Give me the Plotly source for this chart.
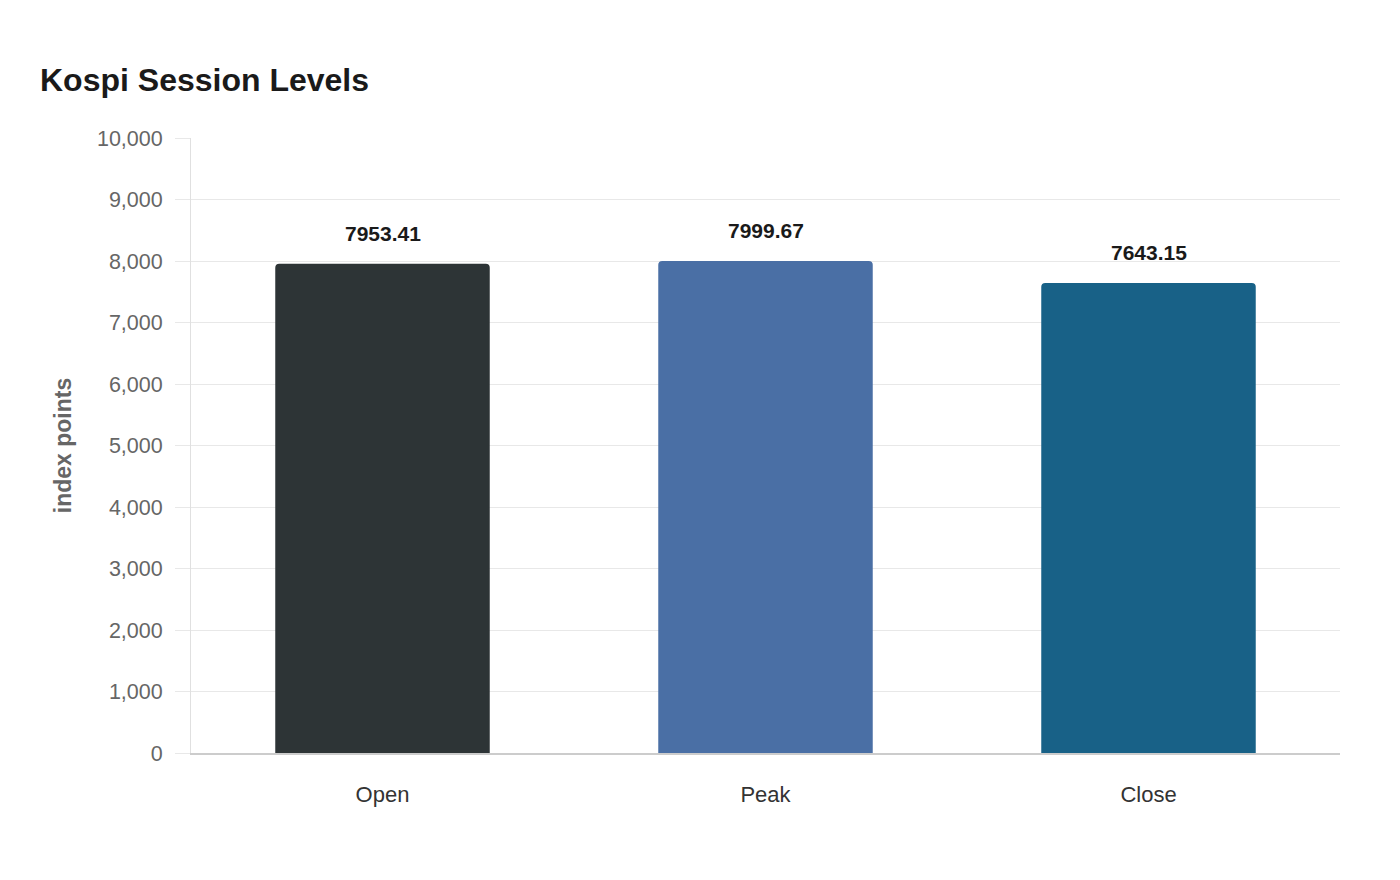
import plotly.graph_objects as go

categories = ["Open", "Peak", "Close"]
values = [7953.41, 7999.67, 7643.15]
colors = ["#2d3436", "#4a6fa5", "#186187"]
tick_vals = [0, 1000, 2000, 3000, 4000, 5000, 6000, 7000, 8000, 9000, 10000]

FONT = "Liberation Sans, Arial, sans-serif"

fig = go.Figure()
fig.add_trace(go.Bar(
    x=categories, y=values, marker=dict(color=colors, line=dict(width=0)),
    hoverinfo="x+y", showlegend=False,
))

for c, v in zip(categories, values):
    fig.add_annotation(
        x=c, y=v, text=f"<b>{v:.2f}</b>", showarrow=False,
        yanchor="bottom", yshift=17,
        font=dict(family=FONT, size=21, color="#1a1a1a"),
    )

fig.update_layout(
    width=1400, height=880,
    paper_bgcolor="white", plot_bgcolor="white",
    margin=dict(l=183, r=68, t=130, b=135),
    bargap=0.44,
    barcornerradius=4,
    font=dict(family=FONT),
    title=dict(
        text="<b>Kospi Session Levels</b>", x=32/1400, xanchor="left",
        y=1 - 72/880, yanchor="middle", yref="container",
        font=dict(size=32, color="#1a1a1a"),
    ),
    xaxis=dict(
        showgrid=False, showline=True, linecolor="#cccccc", linewidth=1.5,
        ticks="", tickfont=dict(size=22, color="#333333"),
        ticklabelstandoff=21,
    ),
    yaxis=dict(
        range=[0, 10000], tickvals=tick_vals, tickformat=",d",
        showgrid=True, gridcolor="#e8e8e8", gridwidth=1,
        showline=True, linecolor="#e0e0e0", linewidth=1,
        ticks="outside", ticklen=15, tickcolor="#e8e8e8",
        tickfont=dict(size=21.5, color="#666666"),
        ticklabelstandoff=8,
        zeroline=False,
        title=dict(text="<b>index points</b>", font=dict(size=23, color="#666666"), standoff=18),
    ),
)

fig.write_html("out.html")
